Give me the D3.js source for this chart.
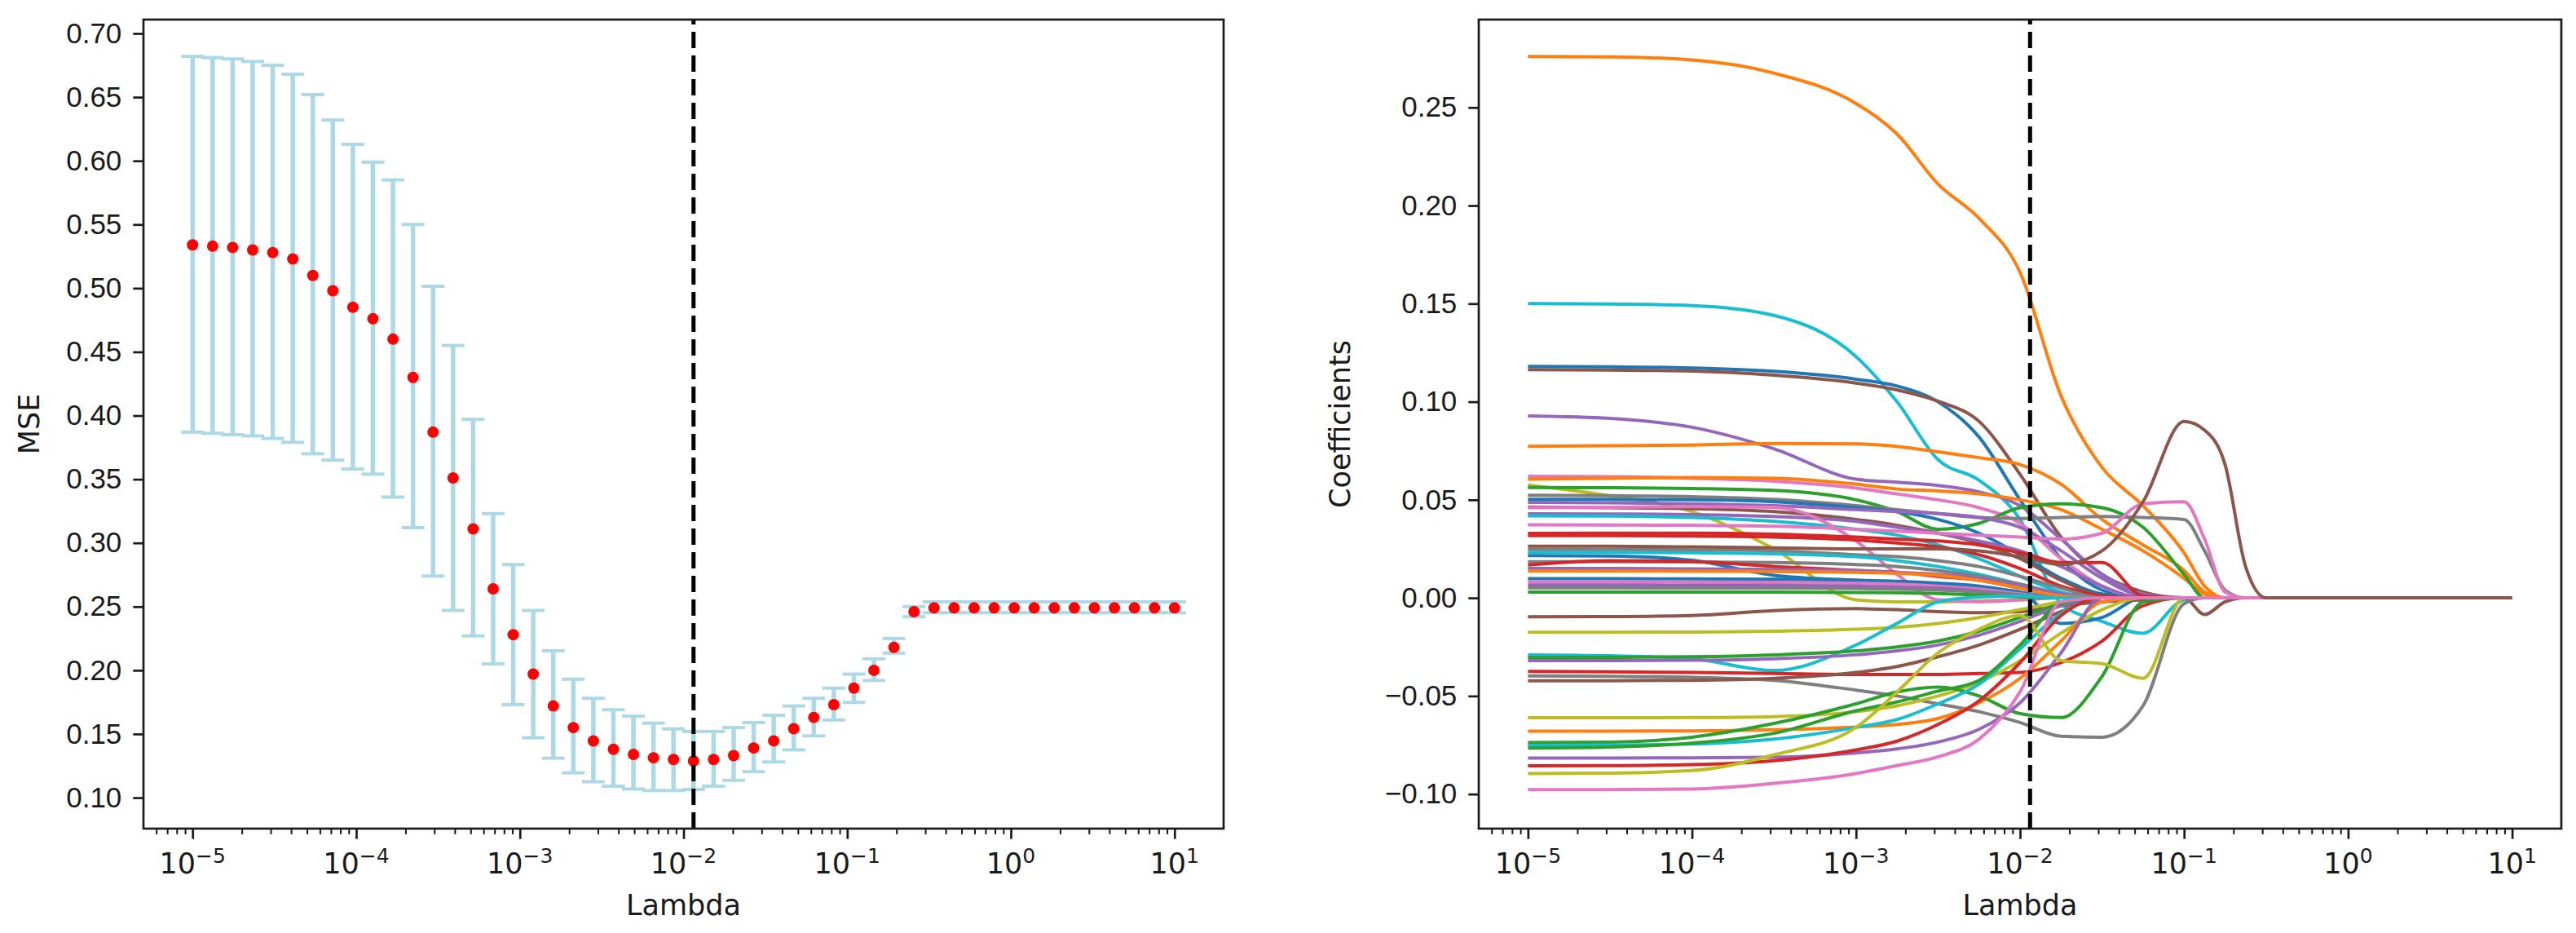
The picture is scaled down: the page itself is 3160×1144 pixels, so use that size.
<!DOCTYPE html>
<html>
	<head>
		<title>Lasso CV | D3</title>
		<script src="https://d3js.org/d3.v7.min.js" charset="utf-8"></script>
		<style>
			body {
				margin: 0;
				background: white;
			}
			svg {
				display: block;
				font-family: "DejaVu Sans", sans-serif;
			}
			.tick text {
				font-size: 35px;
				fill: #1a1a1a;
			}
		</style>
	</head>
	<body>
		<script>
		var width = 3160;
		var height = 1144;

		// lambda grid used for the CV curve
		var lambdas = [1.000e-5, 1.326e-5, 1.758e-5, 2.330e-5, 3.089e-5, 4.095e-5, 5.429e-5, 7.197e-5, 9.541e-5, 1.265e-4,
			1.677e-4, 2.223e-4, 2.947e-4, 3.907e-4, 5.179e-4, 6.866e-4, 9.103e-4, 1.207e-3, 1.600e-3, 2.121e-3,
			2.812e-3, 3.728e-3, 4.942e-3, 6.551e-3, 8.685e-3, 1.151e-2, 1.526e-2, 2.024e-2, 2.683e-2, 3.556e-2,
			4.715e-2, 6.251e-2, 8.286e-2, 1.099e-1, 1.456e-1, 1.931e-1, 2.560e-1, 3.393e-1, 4.498e-1, 5.964e-1,
			7.906e-1, 1.048, 1.389, 1.842, 2.442, 3.237, 4.292, 5.690, 7.543, 10.0];

		var mseMean = [0.534, 0.533, 0.532, 0.530, 0.528, 0.523, 0.510, 0.498, 0.485, 0.476,
			0.460, 0.430, 0.387, 0.351, 0.311, 0.264, 0.228, 0.197, 0.172, 0.155,
			0.1445, 0.138, 0.134, 0.1313, 0.130, 0.1288, 0.130, 0.133, 0.139, 0.1446,
			0.1541, 0.163, 0.173, 0.186, 0.200, 0.218, 0.246, 0.249, 0.249, 0.249,
			0.249, 0.249, 0.249, 0.249, 0.249, 0.249, 0.249, 0.249, 0.249, 0.249];

		var mseUpper = [0.682, 0.681, 0.680, 0.678, 0.675, 0.668, 0.652, 0.632, 0.613, 0.599,
			0.585, 0.550, 0.5015, 0.455, 0.397, 0.323, 0.283, 0.247, 0.2153, 0.193,
			0.178, 0.169, 0.164, 0.1585, 0.154, 0.152, 0.152, 0.155, 0.159, 0.1647,
			0.172, 0.178, 0.186, 0.197, 0.209, 0.225, 0.250, 0.2537, 0.2537, 0.2537,
			0.2537, 0.2537, 0.2537, 0.2537, 0.2537, 0.2537, 0.2537, 0.2537, 0.2537, 0.2537];

		var mseLower = [0.387, 0.386, 0.385, 0.384, 0.382, 0.379, 0.370, 0.365, 0.358, 0.354,
			0.336, 0.312, 0.274, 0.247, 0.227, 0.205, 0.173, 0.147, 0.131, 0.1195,
			0.1125, 0.109, 0.1068, 0.1056, 0.1056, 0.1064, 0.109, 0.1136, 0.1204, 0.128,
			0.1375, 0.1485, 0.161, 0.1748, 0.192, 0.2135, 0.242, 0.2452, 0.2452, 0.2452,
			0.2452, 0.2452, 0.2452, 0.2452, 0.2452, 0.2452, 0.2452, 0.2452, 0.2452, 0.2452];

		var bestLambda = 0.01151;

		var decadeExps = [-5, -4, -3, -2, -1, 0, 1];
		var mseTicks = [0.10, 0.15, 0.20, 0.25, 0.30, 0.35, 0.40, 0.45, 0.50, 0.55, 0.60, 0.65, 0.70];
		var coefTicks = [-0.10, -0.05, 0.00, 0.05, 0.10, 0.15, 0.20, 0.25];

		var knotLambdas = [1e-5, 3.162e-5, 1e-4, 3.162e-4, 1e-3, 1.778e-3, 3.162e-3, 5.623e-3, 1e-2,
			1.778e-2, 3.162e-2, 5.623e-2, 1e-1, 1.334e-1, 1.778e-1, 2.371e-1, 3.162e-1, 10];

		var coefColors = ["#ff7f0e", "#17becf", "#1f77b4", "#8c564b", "#9467bd", "#ff7f0e", "#e377c2", "#ff7f0e",
			"#bcbd22", "#2ca02c", "#7f7f7f", "#1f77b4", "#9467bd", "#8c564b", "#9467bd", "#17becf",
			"#e377c2", "#e377c2", "#d62728", "#d62728", "#7f7f7f", "#17becf", "#1f77b4", "#7f7f7f",
			"#d62728", "#9467bd", "#ff7f0e", "#1f77b4", "#e377c2", "#9467bd", "#7f7f7f", "#2ca02c",
			"#8c564b", "#bcbd22", "#17becf", "#2ca02c", "#9467bd", "#d62728", "#7f7f7f", "#8c564b",
			"#bcbd22", "#ff7f0e", "#2ca02c", "#17becf", "#2ca02c", "#9467bd", "#d62728", "#bcbd22",
			"#e377c2", "#8c564b"];

		var coefPaths = [
			[0.276, 0.2758, 0.2742, 0.2675, 0.252, 0.2365, 0.211, 0.1935, 0.166, 0.103, 0.0665, 0.047, 0.023, 0.006, 0, 0, 0, 0],
			[0.150, 0.1498, 0.149, 0.144, 0.123, 0.100, 0.0705, 0.060, 0.040, -0.003, -0.012, -0.018, -0.001, 0, 0, 0, 0, 0],
			[0.118, 0.1178, 0.1172, 0.1155, 0.1115, 0.108, 0.100, 0.082, 0.050, 0.020, 0.004, 0, 0, 0, 0, 0, 0, 0],
			[0.1163, 0.1161, 0.1156, 0.1135, 0.1095, 0.106, 0.1003, 0.090, 0.063, 0.031, 0.012, 0.003, 0, 0, 0, 0, 0, 0],
			[0.0928, 0.0915, 0.087, 0.076, 0.0605, 0.059, 0.0573, 0.054, 0.047, 0.030, 0.012, 0.002, 0, 0, 0, 0, 0, 0],
			[0.0773, 0.0776, 0.0779, 0.0787, 0.0785, 0.0772, 0.0745, 0.0715, 0.068, 0.058, 0.040, 0.027, 0.014, 0.003, 0, 0, 0, 0],
			[0.062, 0.0618, 0.061, 0.0595, 0.056, 0.053, 0.050, 0.046, 0.038, 0.020, 0.006, 0, 0, 0, 0, 0, 0, 0],
			[0.0605, 0.061, 0.0614, 0.061, 0.058, 0.0555, 0.0545, 0.053, 0.050, 0.045, 0.035, 0.024, 0.010, 0.002, 0, 0, 0, 0],
			[0.0575, 0.052, 0.044, 0.025, -0.001, -0.002, -0.002, -0.0015, -0.001, 0, 0, 0, 0, 0, 0, 0, 0, 0],
			[0.0563, 0.0562, 0.0558, 0.0548, 0.050, 0.044, 0.035, 0.038, 0.046, 0.048, 0.046, 0.036, 0.012, 0, 0, 0, 0, 0],
			[0.0523, 0.0521, 0.0516, 0.0502, 0.047, 0.045, 0.043, 0.041, 0.0405, 0.041, 0.0415, 0.041, 0.040, 0.024, 0.004, 0, 0, 0],
			[0.0503, 0.0502, 0.050, 0.049, 0.046, 0.044, 0.040, 0.033, 0.022, 0.010, 0.002, 0, 0, 0, 0, 0, 0, 0],
			[0.0487, 0.0485, 0.048, 0.047, 0.045, 0.044, 0.043, 0.041, 0.036, 0.024, 0.010, 0.001, 0, 0, 0, 0, 0, 0],
			[0.0463, 0.046, 0.0455, 0.044, 0.040, 0.037, 0.033, 0.028, 0.020, 0.009, 0.001, 0, 0, 0, 0, 0, 0, 0],
			[0.0429, 0.0428, 0.0425, 0.0415, 0.039, 0.036, 0.033, 0.029, 0.024, 0.016, 0.006, 0, 0, 0, 0, 0, 0, 0],
			[0.0418, 0.0417, 0.041, 0.039, 0.035, 0.032, 0.027, 0.020, 0.011, 0.003, 0, 0, 0, 0, 0, 0, 0, 0],
			[0.046, 0.0462, 0.0465, 0.0462, 0.029, 0.012, -0.001, -0.002, -0.001, 0, 0, 0, 0, 0, 0, 0, 0, 0],
			[0.0373, 0.0372, 0.037, 0.0365, 0.035, 0.034, 0.033, 0.032, 0.031, 0.030, 0.033, 0.048, 0.049, 0.030, 0.003, 0, 0, 0],
			[0.0329, 0.033, 0.033, 0.0325, 0.031, 0.030, 0.029, 0.027, 0.023, 0.018, 0.018, 0.001, 0, 0, 0, 0, 0, 0],
			[0.0318, 0.0318, 0.0315, 0.031, 0.0295, 0.028, 0.026, 0.022, 0.015, 0.006, 0.001, 0, 0, 0, 0, 0, 0, 0],
			[0.0247, 0.0247, 0.0245, 0.024, 0.022, 0.021, 0.019, 0.016, 0.011, 0.005, 0, 0, 0, 0, 0, 0, 0, 0],
			[0.0232, 0.0232, 0.023, 0.0225, 0.021, 0.019, 0.016, 0.012, 0.007, 0.002, 0, 0, 0, 0, 0, 0, 0, 0],
			[0.0216, 0.0214, 0.0192, 0.0115, 0.009, 0.008, 0.0065, 0.005, 0.003, -0.013, -0.010, 0, 0, 0, 0, 0, 0, 0],
			[0.0184, 0.0184, 0.0183, 0.018, 0.017, 0.016, 0.014, 0.011, 0.007, 0.002, 0, 0, 0, 0, 0, 0, 0, 0],
			[0.0168, 0.019, 0.0185, 0.016, 0.014, 0.013, 0.011, 0.009, 0.005, 0.001, 0, 0, 0, 0, 0, 0, 0, 0],
			[0.015, 0.015, 0.0148, 0.0145, 0.014, 0.013, 0.012, 0.010, 0.006, 0.002, 0, 0, 0, 0, 0, 0, 0, 0],
			[0.0137, 0.0137, 0.0136, 0.0135, 0.013, 0.0125, 0.0115, 0.009, 0.005, 0.001, 0, 0, 0, 0, 0, 0, 0, 0],
			[0.0098, 0.0098, 0.0097, 0.0095, 0.009, 0.0085, 0.0075, 0.006, 0.003, 0, 0, 0, 0, 0, 0, 0, 0, 0],
			[0.0082, 0.0082, 0.0081, 0.008, 0.0075, 0.007, 0.006, 0.0045, 0.002, 0, 0, 0, 0, 0, 0, 0, 0, 0],
			[0.0066, 0.0066, 0.0065, 0.0064, 0.006, 0.0055, 0.005, 0.0035, 0.0015, 0, 0, 0, 0, 0, 0, 0, 0, 0],
			[0.0051, 0.0051, 0.005, 0.005, 0.0048, 0.0045, 0.004, 0.003, 0.0015, 0, 0, 0, 0, 0, 0, 0, 0, 0],
			[0.003, 0.003, 0.003, 0.003, 0.0028, 0.0026, 0.0022, 0.0015, 0.0005, 0, 0, 0, 0, 0, 0, 0, 0, 0],
			[-0.0096, -0.0095, -0.009, -0.0065, -0.0055, -0.006, -0.007, -0.0075, -0.007, -0.004, -0.002, -0.001, 0, -0.0085, -0.002, 0, 0, 0],
			[-0.0175, -0.0175, -0.0174, -0.017, -0.016, -0.015, -0.013, -0.010, -0.006, -0.002, 0, 0, 0, 0, 0, 0, 0, 0],
			[-0.029, -0.0295, -0.031, -0.037, -0.024, -0.013, -0.002, 0.0005, 0.001, 0, 0, 0, 0, 0, 0, 0, 0, 0],
			[-0.0304, -0.0303, -0.030, -0.029, -0.027, -0.025, -0.022, -0.017, -0.010, -0.003, 0, 0, 0, 0, 0, 0, 0, 0],
			[-0.032, -0.032, -0.0318, -0.031, -0.029, -0.027, -0.024, -0.019, -0.012, -0.004, 0, 0, 0, 0, 0, 0, 0, 0],
			[-0.0375, -0.0377, -0.038, -0.0385, -0.039, -0.039, -0.039, -0.0385, -0.038, -0.033, -0.022, -0.004, 0, 0, 0, 0, 0, 0],
			[-0.0398, -0.040, -0.0405, -0.042, -0.047, -0.050, -0.054, -0.058, -0.0635, -0.0705, -0.071, -0.055, -0.003, 0, 0, 0, 0, 0],
			[-0.0422, -0.0422, -0.042, -0.041, -0.038, -0.035, -0.030, -0.024, -0.016, -0.007, 0, 0, 0, 0, 0, 0, 0, 0],
			[-0.0611, -0.0611, -0.061, -0.0605, -0.058, -0.055, -0.050, -0.043, -0.032, -0.018, -0.006, 0, 0, 0, 0, 0, 0, 0],
			[-0.0679, -0.0679, -0.0678, -0.0672, -0.0658, -0.0645, -0.0615, -0.0535, -0.041, -0.022, -0.002, 0, 0, 0, 0, 0, 0, 0],
			[-0.0737, -0.0735, -0.071, -0.064, -0.054, -0.048, -0.0455, -0.050, -0.059, -0.061, -0.040, -0.002, 0, 0, 0, 0, 0, 0],
			[-0.0752, -0.075, -0.0745, -0.072, -0.066, -0.062, -0.054, -0.044, -0.026, -0.008, 0, 0, 0, 0, 0, 0, 0, 0],
			[-0.0765, -0.076, -0.074, -0.069, -0.0575, -0.053, -0.0475, -0.042, -0.024, -0.003, 0, 0, 0, 0, 0, 0, 0, 0],
			[-0.0816, -0.0816, -0.0815, -0.0812, -0.079, -0.077, -0.0735, -0.067, -0.0535, -0.028, 0, 0, 0, 0, 0, 0, 0, 0],
			[-0.0856, -0.0855, -0.085, -0.083, -0.0775, -0.073, -0.0645, -0.0525, -0.033, -0.009, 0, 0, 0, 0, 0, 0, 0, 0],
			[-0.0895, -0.0893, -0.088, -0.080, -0.066, -0.048, -0.028, -0.016, -0.009, -0.032, -0.0335, -0.041, 0, 0, 0, 0, 0, 0],
			[-0.0978, -0.0977, -0.0974, -0.0945, -0.0895, -0.0855, -0.081, -0.072, -0.048, -0.002, 0, 0, 0, 0, 0, 0, 0, 0],
			[0.0263, 0.0263, 0.026, 0.0255, 0.025, 0.025, 0.025, 0.024, 0.021, 0.017, 0.024, 0.049, 0.090, 0.0855, 0.068, 0.016, 0, 0]
		];

		//create the SVG
		var svg = d3.select("body")
			.append("svg")
			.attr("width", width)
			.attr("height", height);

		var plotTop = 24;
		var plotBottom = 1016;
		var xDomain = [Math.pow(10, -5.3), Math.pow(10, 1.3)];

		// left panel: CV error
		var x1 = d3.scaleLog().domain(xDomain).range([176, 1501]);
		var y1 = d3.scaleLinear().domain([0.0757, 0.7109]).range([plotBottom, plotTop]);

		// right panel: coefficient paths
		var x2 = d3.scaleLog().domain(xDomain).range([1814, 3142]);
		var y2 = d3.scaleLinear().domain([-0.1176, 0.2948]).range([plotBottom, plotTop]);

		function drawFrame(x, y, yTicks, yLabel, yLabelX) {
			var g = svg.append("g");
			var x0 = x.range()[0], xEnd = x.range()[1];

			// minor log ticks
			var minor = x.ticks().filter(function(v) {
				var e = Math.log10(v);
				return Math.abs(e - Math.round(e)) > 1e-6;
			});
			g.append("g")
				.attr("transform", "translate(0," + plotBottom + ")")
				.call(d3.axisBottom(x).tickValues(minor).tickSize(7).tickSizeOuter(0).tickFormat(""))
				.call(function(a) { a.select(".domain").remove(); })
				.selectAll("line").attr("stroke", "#1a1a1a").attr("stroke-width", 2);

			var xa = g.append("g")
				.attr("transform", "translate(0," + plotBottom + ")")
				.call(d3.axisBottom(x)
					.tickValues(decadeExps.map(function(e) { return Math.pow(10, e); }))
					.tickSize(12.7).tickSizeOuter(0).tickFormat(""));
			xa.select(".domain").remove();
			xa.selectAll("line").attr("stroke", "#1a1a1a").attr("stroke-width", 2.7);

			// 10^n labels
			var lab = g.selectAll("text.xlab")
				.data(decadeExps)
				.enter()
				.append("text")
				.attr("class", "xlab")
				.attr("x", function(e) { return x(Math.pow(10, e)); })
				.attr("y", plotBottom + 55)
				.attr("text-anchor", "middle")
				.attr("fill", "#1a1a1a")
				.style("font-size", "35px");
			lab.append("tspan").text("10");
			lab.append("tspan")
				.attr("dy", -13)
				.style("font-size", "25px")
				.text(function(e) { return d3.format("")(e).replace("-", "\u2212"); });

			var ya = g.append("g")
				.attr("transform", "translate(" + x0 + ",0)")
				.call(d3.axisLeft(y).tickValues(yTicks).tickSize(12.7).tickPadding(14).tickSizeOuter(0)
					.tickFormat(d3.format(".2f")));
			ya.select(".domain").remove();
			ya.selectAll("line").attr("stroke", "#1a1a1a").attr("stroke-width", 2.7);

			// spines
			g.append("rect")
				.attr("x", x0)
				.attr("y", plotTop)
				.attr("width", xEnd - x0)
				.attr("height", plotBottom - plotTop)
				.attr("fill", "none")
				.attr("stroke", "#1a1a1a")
				.attr("stroke-width", 2.7);

			g.append("text")
				.attr("x", (x0 + xEnd) / 2)
				.attr("y", 1122)
				.attr("text-anchor", "middle")
				.attr("fill", "#1a1a1a")
				.style("font-size", "35px")
				.text("Lambda");

			g.append("text")
				.attr("transform", "translate(" + yLabelX + "," + ((plotTop + plotBottom) / 2) + ") rotate(-90)")
				.attr("text-anchor", "middle")
				.attr("fill", "#1a1a1a")
				.style("font-size", "35px")
				.text(yLabel);
			return g;
		}

		// ---- left panel marks
		var bars = svg.append("g");
		bars.selectAll("line.err")
			.data(lambdas)
			.enter()
			.append("line")
			.attr("x1", function(d) { return x1(d); })
			.attr("x2", function(d) { return x1(d); })
			.attr("y1", function(d, i) { return y1(mseLower[i]); })
			.attr("y2", function(d, i) { return y1(mseUpper[i]); })
			.attr("stroke", "#add8e6")
			.attr("stroke-width", 5.5);

		[mseLower, mseUpper].forEach(function(arr) {
			bars.selectAll(null)
				.data(lambdas)
				.enter()
				.append("line")
				.attr("x1", function(d) { return x1(d) - 14; })
				.attr("x2", function(d) { return x1(d) + 14; })
				.attr("y1", function(d, i) { return y1(arr[i]); })
				.attr("y2", function(d, i) { return y1(arr[i]); })
				.attr("stroke", "#add8e6")
				.attr("stroke-width", 4);
		});

		bars.selectAll("circle")
			.data(lambdas)
			.enter()
			.append("circle")
			.attr("cx", function(d) { return x1(d); })
			.attr("cy", function(d, i) { return y1(mseMean[i]); })
			.attr("r", 7)
			.attr("fill", "#ff0000");

		// ---- right panel marks
		var line = d3.line()
			.x(function(d, i) { return x2(knotLambdas[i]); })
			.y(function(d) { return y2(d); })
			.curve(d3.curveMonotoneX);

		svg.append("g")
			.selectAll("path")
			.data(coefPaths)
			.enter()
			.append("path")
			.attr("d", line)
			.attr("fill", "none")
			.attr("stroke", function(d, i) { return coefColors[i]; })
			.attr("stroke-width", 4)
			.attr("stroke-linejoin", "round");

		// chosen lambda on both panels
		[[x1, y1], [x2, y2]].forEach(function(s) {
			svg.append("line")
				.attr("x1", s[0](bestLambda))
				.attr("x2", s[0](bestLambda))
				.attr("y1", plotBottom)
				.attr("y2", plotTop)
				.attr("stroke", "#000")
				.attr("stroke-width", 5)
				.attr("stroke-dasharray", "20,9");
		});

		drawFrame(x1, y1, mseTicks, "MSE", 48);
		drawFrame(x2, y2, coefTicks, "Coefficients", 1656);

		</script>
	</body>
</html>
